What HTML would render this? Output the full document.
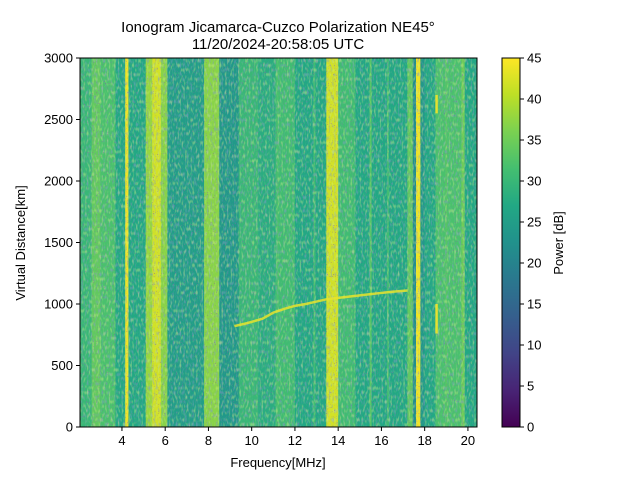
<!DOCTYPE html>
<html><head><meta charset="utf-8"><style>
body{margin:0;background:#fff;}
svg text{font-family:"Liberation Sans",sans-serif;fill:#000;}
</style></head><body>
<svg id="chart" width="640" height="480" viewBox="0 0 640 480" xmlns="http://www.w3.org/2000/svg">
<defs>
<filter id="darkgrain" x="0" y="0" width="100%" height="100%">
<feTurbulence type="fractalNoise" baseFrequency="0.55 0.22" numOctaves="1" seed="4"/>
<feColorMatrix type="matrix" values="0 0 0 0 0.22  0 0 0 0 0.35  0 0 0 0 0.55  3.5 0 0 0 -1.75"/>
</filter>
<filter id="lightgrain" x="0" y="0" width="100%" height="100%">
<feTurbulence type="fractalNoise" baseFrequency="0.55 0.22" numOctaves="1" seed="11"/>
<feColorMatrix type="matrix" values="0 0 0 0 0.6  0 0 0 0 0.85  0 0 0 0 0.25  3.5 0 0 0 -1.75"/>
</filter>
<filter id="specks" x="0" y="0" width="100%" height="100%">
<feTurbulence type="fractalNoise" baseFrequency="0.9" numOctaves="1" seed="23"/>
<feColorMatrix type="matrix" values="0 0 0 0 0.27  0 0 0 0 0.1  0 0 0 0 0.4  12 0 0 0 -8.2"/>
</filter>
<linearGradient id="viridis" x1="0" y1="1" x2="0" y2="0">
<stop offset="0" stop-color="#440154"/><stop offset="0.1" stop-color="#482475"/>
<stop offset="0.2" stop-color="#414487"/><stop offset="0.3" stop-color="#355f8d"/>
<stop offset="0.4" stop-color="#2a788e"/><stop offset="0.5" stop-color="#21918c"/>
<stop offset="0.6" stop-color="#22a884"/><stop offset="0.7" stop-color="#44bf70"/>
<stop offset="0.8" stop-color="#7ad151"/><stop offset="0.9" stop-color="#bddf26"/>
<stop offset="1" stop-color="#fde725"/>
</linearGradient>
<clipPath id="plotclip"><rect x="80" y="58" width="397" height="369"/></clipPath>
</defs>
<text x="278" y="32" font-size="15" text-anchor="middle">Ionogram Jicamarca-Cuzco Polarization NE45°</text>
<text x="278" y="49" font-size="15" text-anchor="middle">11/20/2024-20:58:05 UTC</text>
<g id="heat" clip-path="url(#plotclip)"></g>
<rect x="80" y="58" width="397" height="369" filter="url(#darkgrain)" opacity="0.6"/>
<rect x="80" y="58" width="397" height="369" filter="url(#lightgrain)" opacity="0.5"/>
<rect x="80" y="58" width="397" height="369" filter="url(#specks)" opacity="0.8"/>
<g id="marks" clip-path="url(#plotclip)"></g>
<rect x="80" y="58" width="397" height="369" fill="none" stroke="#000" stroke-width="1"/>
<g id="xaxis"></g>
<g id="yaxis"></g>
<text x="278" y="467" font-size="13" text-anchor="middle">Frequency[MHz]</text>
<text x="0" y="0" font-size="13" text-anchor="middle" transform="translate(25,243) rotate(-90)">Virtual Distance[km]</text>
<rect x="502" y="58" width="18" height="369" fill="url(#viridis)" stroke="#000" stroke-width="1"/>
<g id="cbaxis"></g>
<text x="0" y="0" font-size="13" text-anchor="middle" transform="translate(563,243) rotate(-90)">Power [dB]</text>
</svg>
<script>
// band data: frequency ranges (MHz) and mean power (dB)
const bandStart = [2.0,2.6,3.0,3.7,4.15,4.3,5.1,5.4,5.8,6.1,7.8,8.5,9.4,10.3,11.1,12.0,13.45,14.0,14.8,17.2,17.45,17.6,17.8,18.0,18.5,19.7,19.85];
const bandEnd   = [2.6,3.0,3.7,4.15,4.3,5.1,5.4,5.8,6.1,7.8,8.5,9.4,10.3,11.1,12.0,13.45,14.0,14.8,17.2,17.45,17.6,17.8,18.0,18.5,19.7,19.85,20.5];
const bandPower = [30,34,32,27,44,27,38,42,37,25,37,24,30,28,31,27,42,31,27,34,22,44,24,27,32,35,27];
// weak vertical lines (MHz, dB)
const lineFreq = [15.5,16.3,11.2,12.9,19.0];
const linePower = [33,31,32,31,33];
// echo trace (MHz, km)
const traceFreq = [9.2,9.8,10.5,11.0,11.5,12.0,12.5,13.0,13.5,14.0,14.5,15.0,15.5,16.0,16.5,17.2];
const traceDist = [820,845,880,930,960,985,1000,1020,1040,1050,1060,1070,1080,1090,1100,1110];
// 18.5 MHz spur segments
const spurFreq = [18.55,18.55];
const spurLow = [760,2550];
const spurHigh = [1000,2700];
// axis ticks
const xTicks = [4,6,8,10,12,14,16,18,20];
const yTicks = [0,500,1000,1500,2000,2500,3000];
const cTicks = [0,5,10,15,20,25,30,35,40,45];

const X0=80,X1=477,Y0=427,Y1=58, FMIN=2.06, FMAX=20.42, DMAX=3000, PMAX=45;
const xs = f => X0 + (f-FMIN)/(FMAX-FMIN)*(X1-X0);
const ys = d => Y0 - d/DMAX*(Y0-Y1);
const cs = p => 427 - p/PMAX*369;
const stops=[[68,1,84],[72,36,117],[65,68,135],[53,95,141],[42,120,142],[33,145,140],[34,168,132],[68,191,112],[122,209,81],[189,223,38],[253,231,37]];
function viridis(p){let t=Math.max(0,Math.min(1,p/PMAX))*10;let i=Math.min(9,Math.floor(t)),f=t-i;
 const a=stops[i],b=stops[i+1];return `rgb(${a.map((v,k)=>Math.round(v+(b[k]-v)*f)).join(',')})`;}
const NS="http://www.w3.org/2000/svg";
function mk(tag,attrs,parent){const e=document.createElementNS(NS,tag);for(const k in attrs)e.setAttribute(k,attrs[k]);parent.appendChild(e);return e;}
const heat=document.getElementById('heat'), marks=document.getElementById('marks');
bandStart.forEach((s,i)=>{
 const r=mk('rect',{x:xs(s),y:Y1,width:xs(bandEnd[i])-xs(s)+0.3,height:Y0-Y1,fill:viridis(bandPower[i])},heat);
 
 
});
lineFreq.forEach((f,i)=>{
 const r=mk('rect',{x:xs(f)-1,y:Y1,width:2,height:Y0-Y1,fill:viridis(linePower[i])},heat);
 
 
});
const pts=traceFreq.map((f,i)=>xs(f)+','+ys(traceDist[i])).join(' ');
const tr=mk('polyline',{points:pts,fill:'none',stroke:'#e8e42c',"stroke-width":2.5,opacity:0.85},marks);


spurFreq.forEach((f,i)=>{
 const l=mk('line',{x1:xs(f),x2:xs(f),y1:ys(spurLow[i]),y2:ys(spurHigh[i]),stroke:'#fde725',"stroke-width":2.5,opacity:0.85},marks);
 
 
});
const xa=document.getElementById('xaxis');
xTicks.forEach(t=>{const x=xs(t);
 mk('line',{x1:x,x2:x,y1:Y0,y2:Y0+4,stroke:'#000'},xa);
 const tx=mk('text',{x:x,y:Y0+18,"font-size":13,"text-anchor":"middle"},xa);tx.textContent=t;
 
 });
const ya=document.getElementById('yaxis');
yTicks.forEach(t=>{const y=ys(t);
 mk('line',{x1:X0-4,x2:X0,y1:y,y2:y,stroke:'#000'},ya);
 const tx=mk('text',{x:X0-7,y:y+4.5,"font-size":13,"text-anchor":"end"},ya);tx.textContent=t;
 
 });
const ca=document.getElementById('cbaxis');
cTicks.forEach(t=>{const y=cs(t);
 mk('line',{x1:520,x2:524,y1:y,y2:y,stroke:'#000'},ca);
 const tx=mk('text',{x:527,y:y+4.5,"font-size":13},ca);tx.textContent=t;
 
 });
</script>
</body></html>
